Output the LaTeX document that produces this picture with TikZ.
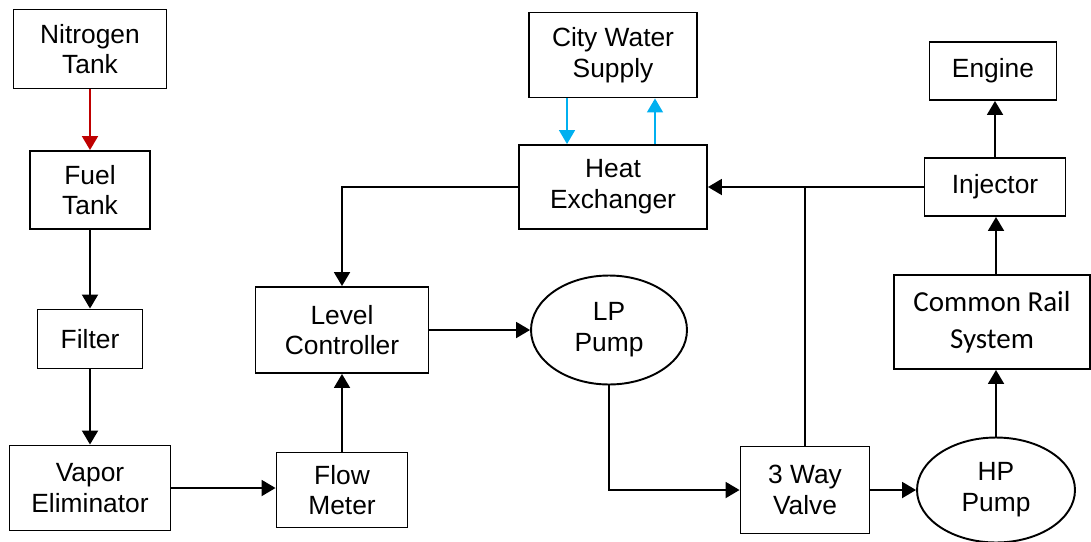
\documentclass[tikz,border=0pt]{standalone}
\usepackage{fontspec}
\setmainfont{Liberation Sans}
\newfontfamily\railfont{Carlito}
\usetikzlibrary{arrows.meta,shapes.geometric,positioning}
\definecolor{GasClr}{rgb}{0.75,0,0}
\definecolor{WaterClr}{rgb}{0,0.69,0.94}

\tikzset{
  blk/.style={draw,line width=1.1pt,align=center,inner sep=0pt,
    font=\fontsize{15}{17.5}\selectfont},
  pmp/.style={blk,ellipse},
  flow/.style={line width=1.1pt,-{Triangle[length=0.28cm,width=0.32cm]}},
  water/.style={flow,line width=0.9pt,color=WaterClr},
}

\begin{document}
\begin{tikzpicture}[x=0.02cm,y=-0.02cm]
\useasboundingbox (0,0) rectangle (1091,541);

\node[blk,minimum width=3.06cm,minimum height=1.58cm] (nitro) at (90,49) {Nitrogen\\Tank};
\node[blk,minimum width=2.4cm,minimum height=1.56cm] (fuel) at (90,190) {Fuel\\Tank};
\node[blk,minimum width=2.1cm,minimum height=1.18cm] (filter) at (90,339) {Filter};
\node[blk,minimum width=3.22cm,minimum height=1.7cm] (vapor) at (90,488) {Vapor\\Eliminator};
\node[blk,minimum width=2.62cm,minimum height=1.5cm] (meter) at (342,490) {Flow\\Meter};
\node[blk,minimum width=3.46cm,minimum height=1.72cm] (level) at (342,330) {Level\\Controller};
\node[pmp,minimum width=3.12cm,minimum height=2.18cm] (lp) at (609,330) {LP\\Pump};
\node[blk,minimum width=2.58cm,minimum height=1.74cm] (valve) at (805,490) {3 Way\\Valve};
\node[pmp,minimum width=3.16cm,minimum height=2.1cm] (hp) at (996,490) {HP\\Pump};
\node[blk,minimum width=3.92cm,minimum height=1.88cm,
  font=\railfont\fontsize{16.5}{21}\selectfont] (rail) at (992,322) {Common Rail\\System};
\node[blk,minimum width=2.82cm,minimum height=1.16cm] (inj) at (995,187) {Injector};
\node[blk,minimum width=2.54cm,minimum height=1.16cm] (engine) at (993,71) {Engine};
\node[blk,minimum width=3.76cm,minimum height=1.68cm] (hex) at (613,187) {Heat\\Exchanger};
\node[blk,minimum width=3.36cm,minimum height=1.7cm] (city) at (613,55) {City Water\\Supply};

\draw[flow,GasClr] (nitro) -- (fuel);
\draw[flow] (fuel) -- (filter);
\draw[flow] (filter) -- (vapor);
\draw[flow] (vapor) -- (vapor -| meter.west);
\draw[flow] (meter) -- (level);
\draw[flow] (level) -- (lp);
\draw[flow] (lp.south) |- (valve.west);
\draw[flow] (valve) -- (hp);
\draw[flow] (hp.north) -- (hp.north |- rail.south);
\draw[flow] (hp.north |- rail.north) -- (inj.south -| hp.north);
\draw[flow] (inj.north) -- (inj.north |- engine.south);
\draw[flow] (inj.west) -- (hex.east);
\draw[line width=1.1pt] (valve.north) -- (valve.north |- inj.west);
\draw[flow] (hex.west) -| (level.north);

\draw[water] ([xshift=-0.92cm]city.south) -- ([xshift=-0.92cm]hex.north);
\draw[water] ([xshift=0.84cm]hex.north) -- ([xshift=0.84cm]city.south);

\end{tikzpicture}
\end{document}
